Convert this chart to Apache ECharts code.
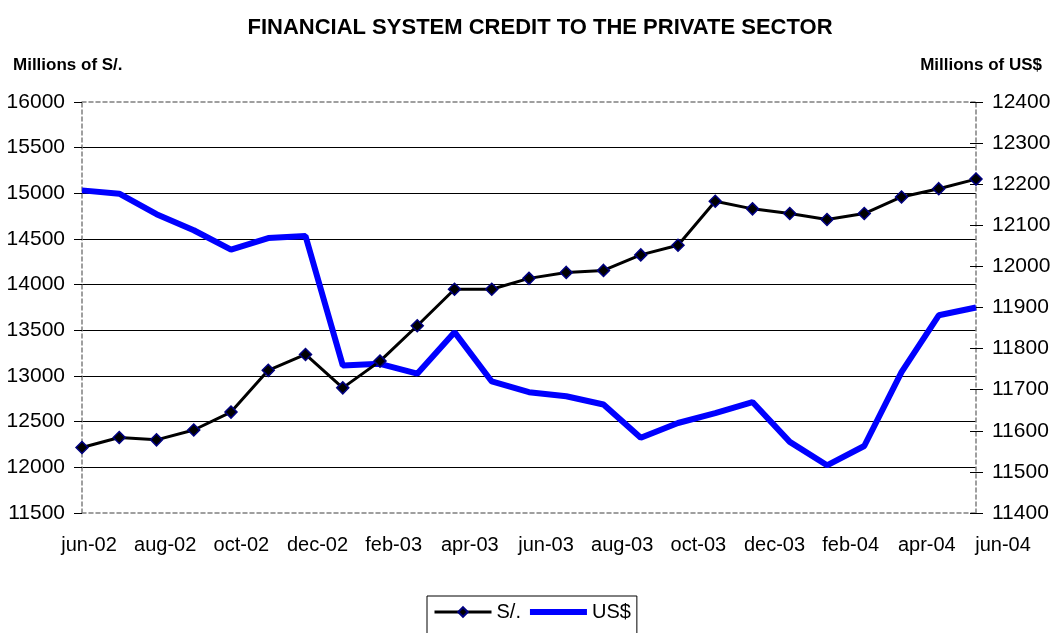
<!DOCTYPE html>
<html>
<head>
<meta charset="utf-8">
<script src="https://cdn.jsdelivr.net/npm/echarts@6/dist/echarts.min.js"></script>
<style>
html,body{margin:0;padding:0;background:#fff;}
#chart{width:1054px;height:633px;}
</style>
</head>
<body>
<div id="chart"></div>
<script>
// ---- data ----
var months = ['jun-02','jul-02','aug-02','sep-02','oct-02','nov-02','dec-02','jan-03','feb-03','mar-03','apr-03','may-03','jun-03','jul-03','aug-03','sep-03','oct-03','nov-03','dec-03','jan-04','feb-04','mar-04','apr-04','may-04','jun-04'];
var solesValues = [12217,12326,12301,12409,12605,13062,13236,12870,13163,13550,13950,13950,14069,14134,14156,14326,14431,14913,14830,14779,14714,14779,14960,15051,15156];
var dollarValues = [12185,12177,12127,12088,12041,12069,12074,11759,11763,11739,11840,11720,11694,11684,11664,11583,11619,11643,11670,11573,11516,11563,11743,11881,11900];
var seriesNames = ['S/.','US$'];
var titleText = 'FINANCIAL SYSTEM CREDIT TO THE PRIVATE SECTOR';
var leftAxisName = 'Millions of S/.';
var rightAxisName = 'Millions of US$';
var leftAxisRange = {min:11500, max:16000, interval:500};
var rightAxisRange = {min:11400, max:12400, interval:100};

var FONT = '"Liberation Sans", Arial, sans-serif';
var dashed = {color:'#808080', width:1.5, type:[4,3]};
var plain = function (v) { return String(v); };

var chart = echarts.init(document.getElementById('chart'), null, {renderer:'canvas'});
var option = {
  animation: false,
  backgroundColor: '#ffffff',
  title: [
    {text: titleText, left: 540, top: 17, textAlign: 'center', padding: 0,
     textStyle: {fontFamily: FONT, fontSize: 22, fontWeight: 'bold', color: '#000'}},
    {text: leftAxisName, left: 13, top: 57, padding: 0,
     textStyle: {fontFamily: FONT, fontSize: 17, fontWeight: 'bold', color: '#000'}},
    {text: rightAxisName, right: 12, top: 57, padding: 0,
     textStyle: {fontFamily: FONT, fontSize: 17, fontWeight: 'bold', color: '#000'}}
  ],
  legend: {
    data: [
      {name: seriesNames[0], lineStyle: {width: 3, color: '#000'}},
      {name: seriesNames[1], icon: 'path://M0,0 L57,0 L57,6 L0,6 Z', itemStyle: {color: '#0000ff'}}
    ],
    left: 427, top: 596,
    orient: 'horizontal',
    padding: [6, 6, 14, 6],
    itemGap: 9,
    itemWidth: 57, itemHeight: 12,
    borderColor: '#000', borderWidth: 1,
    textStyle: {fontFamily: FONT, fontSize: 20, color: '#000'}
  },
  grid: [
    {left: 82, right: 78, top: 102, bottom: 120, containLabel: false},
    {left: 89, right: 51, top: 102, bottom: 120, containLabel: false}
  ],
  xAxis: [
    {type: 'category', gridIndex: 0, data: months, boundaryGap: false, position: 'bottom',
     axisLine: {show: true, lineStyle: dashed}, axisTick: {show: false}, axisLabel: {show: false},
     splitLine: {show: false}},
    {type: 'category', gridIndex: 0, data: months, boundaryGap: false, position: 'top',
     axisLine: {show: true, lineStyle: dashed}, axisTick: {show: false}, axisLabel: {show: false},
     splitLine: {show: false}},
    {type: 'category', gridIndex: 1, data: months, boundaryGap: false, position: 'bottom',
     axisLine: {show: false}, axisTick: {show: false},
     axisLabel: {show: true, interval: 1, margin: 22, fontFamily: FONT, fontSize: 20, color: '#000'},
     splitLine: {show: false}}
  ],
  yAxis: [
    {type: 'value', gridIndex: 0, position: 'left', min: leftAxisRange.min, max: leftAxisRange.max, interval: leftAxisRange.interval,
     axisLine: {show: true, lineStyle: dashed},
     axisTick: {show: true, inside: false, length: 8, lineStyle: {color: '#000', width: 1}},
     axisLabel: {margin: 17, fontFamily: FONT, fontSize: 21, color: '#000', formatter: plain},
     splitLine: {show: true, showMinLine: false, showMaxLine: false, lineStyle: {color: '#000', width: 1}}},
    {type: 'value', gridIndex: 0, position: 'right', min: rightAxisRange.min, max: rightAxisRange.max, interval: rightAxisRange.interval,
     axisLine: {show: true, lineStyle: dashed},
     axisTick: {show: true, inside: false, length: 7, lineStyle: {color: '#000', width: 1}},
     axisLabel: {margin: 16, fontFamily: FONT, fontSize: 21, color: '#000', formatter: plain},
     splitLine: {show: false}},
    {type: 'value', gridIndex: 0, position: 'right', min: rightAxisRange.min, max: rightAxisRange.max, interval: rightAxisRange.interval,
     axisLine: {show: false},
     axisTick: {show: true, inside: true, length: 6, lineStyle: {color: '#000', width: 1}},
     axisLabel: {show: false}, splitLine: {show: false}},
    {type: 'value', gridIndex: 1, show: false}
  ],
  series: [
    {name: seriesNames[0], type: 'line', xAxisIndex: 0, yAxisIndex: 0, data: solesValues, z: 4,
     symbol: 'diamond', symbolSize: 12, showSymbol: true,
     lineStyle: {color: '#000', width: 3},
     itemStyle: {color: '#000', borderColor: '#000080', borderWidth: 1.5}},
    {name: seriesNames[1], type: 'line', xAxisIndex: 0, yAxisIndex: 1, data: dollarValues, z: 3,
     symbol: 'none', showSymbol: false,
     lineStyle: {color: '#0000ff', width: 6},
     itemStyle: {color: '#0000ff'}}
  ]
};
chart.setOption(option);
</script>
</body>
</html>
